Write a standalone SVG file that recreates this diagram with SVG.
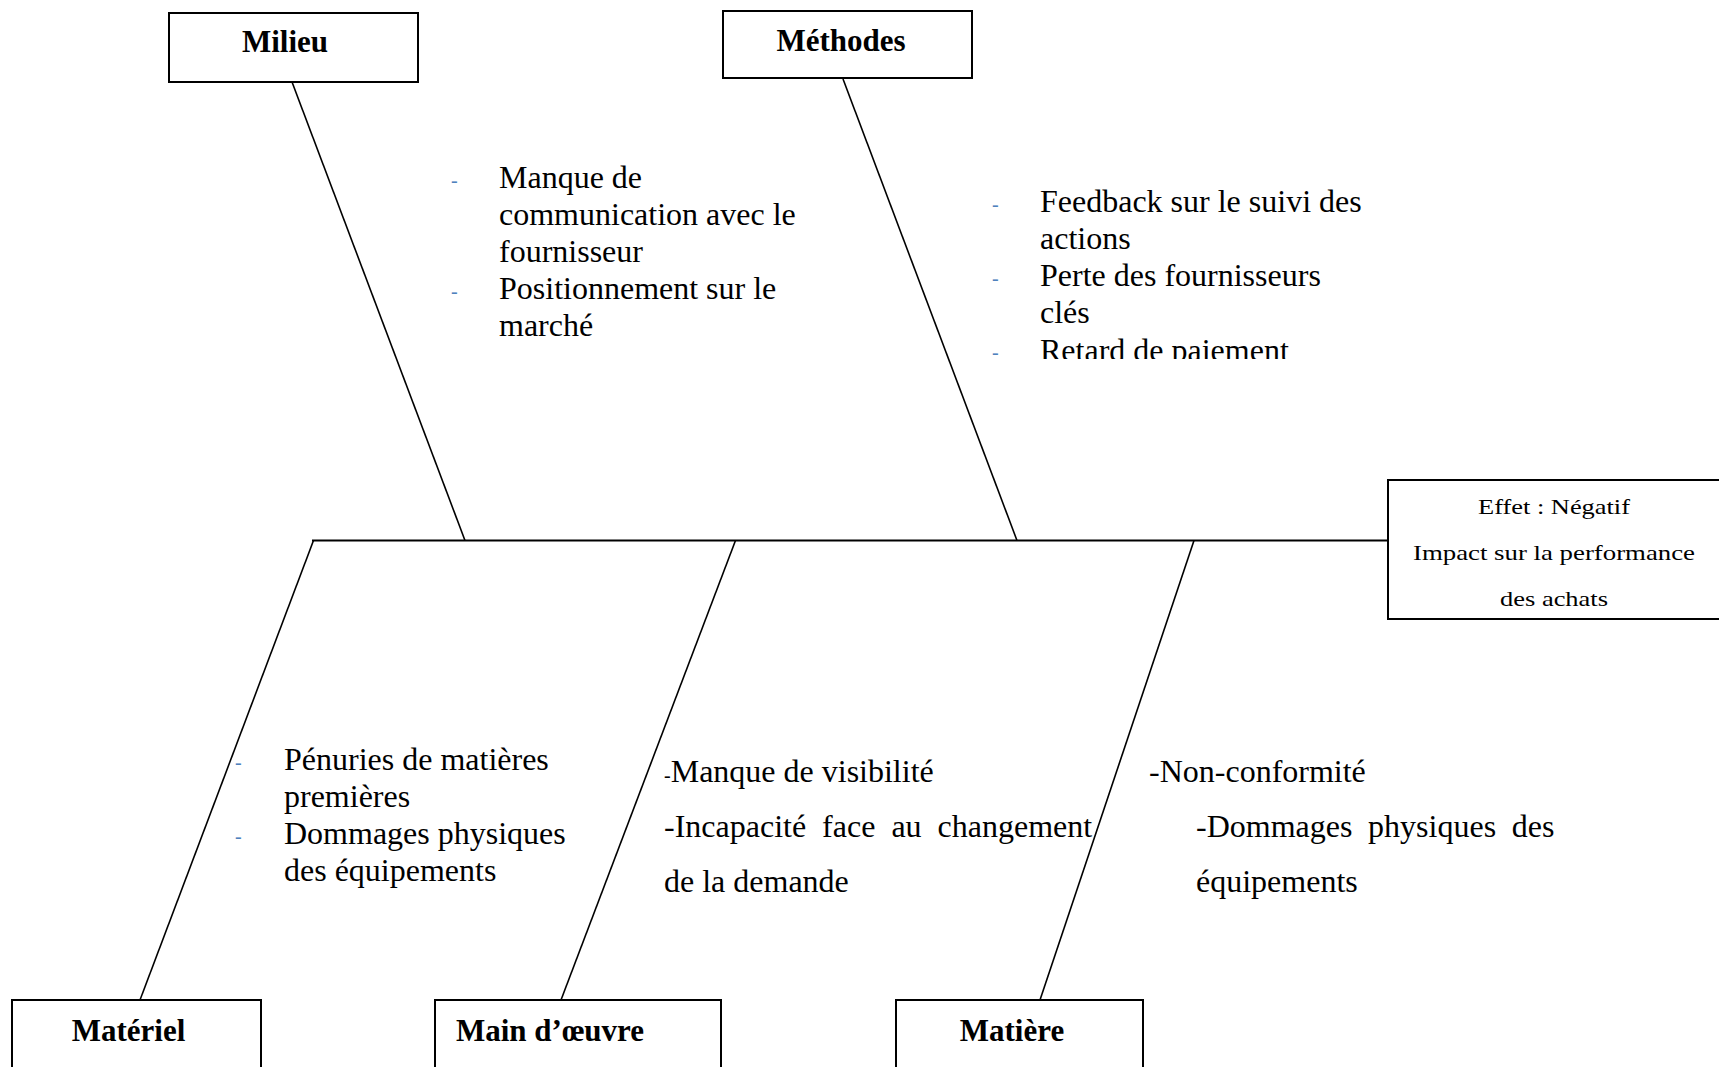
<svg xmlns="http://www.w3.org/2000/svg" width="1719" height="1067" viewBox="0 0 1719 1067">
  <style>
    .box { fill: #ffffff; stroke: #000000; stroke-width: 2; }
    .bone { fill: none; stroke: #000000; stroke-width: 1.6; }
    .spine { fill: none; stroke: #000000; stroke-width: 2.2; }
    .title { font-family: "Liberation Serif", "Times New Roman", serif; font-weight: bold; font-size: 31px; fill: #000000; }
    .cause { font-family: "Liberation Serif", "Times New Roman", serif; font-size: 32px; fill: #000000; }
    .bullet { font-family: "Liberation Serif", "Times New Roman", serif; font-size: 20px; fill: #4f81bd; }
    .effect { font-family: "Liberation Serif", "Times New Roman", serif; font-size: 21px; fill: #000000; }
  </style>
  <defs>
    <clipPath id="methodes-clip">
      <rect x="980" y="150" width="420" height="209"/>
    </clipPath>
  </defs>
  <rect width="1719" height="1067" fill="#ffffff"/>

  <!-- bones and spine -->
  <g id="connectors">
    <line class="spine" x1="312" y1="540.5" x2="1388" y2="540.5"/>
    <line class="bone" x1="292" y1="82" x2="465" y2="540.5"/>
    <line class="bone" x1="843" y1="79" x2="1017" y2="540.5"/>
    <line class="bone" x1="313.5" y1="540.5" x2="140" y2="1000"/>
    <line class="bone" x1="735.5" y1="540.5" x2="561" y2="1000"/>
    <line class="bone" x1="1194" y1="540.5" x2="1040" y2="1000"/>
  </g>

  <!-- category boxes -->
  <g id="milieu">
    <rect class="box" x="169" y="13" width="249" height="69"/>
    <text class="title" x="285" y="52" text-anchor="middle">Milieu</text>
  </g>
  <g id="methodes">
    <rect class="box" x="723" y="11" width="249" height="67"/>
    <text class="title" x="841" y="51" text-anchor="middle">Méthodes</text>
  </g>
  <g id="materiel">
    <rect class="box" x="12" y="1000" width="249" height="80"/>
    <text class="title" x="128.5" y="1041" text-anchor="middle">Matériel</text>
  </g>
  <g id="main-oeuvre">
    <rect class="box" x="435" y="1000" width="286" height="80"/>
    <text class="title" x="456" y="1041">Main d’œuvre</text>
  </g>
  <g id="matiere">
    <rect class="box" x="896" y="1000" width="247" height="80"/>
    <text class="title" x="1012" y="1041" text-anchor="middle">Matière</text>
  </g>

  <!-- effect box -->
  <g id="effet">
    <rect class="box" x="1388" y="480" width="340" height="139"/>
    <text class="effect" x="1554" y="514" text-anchor="middle" textLength="152" lengthAdjust="spacingAndGlyphs">Effet : Négatif</text>
    <text class="effect" x="1554" y="560" text-anchor="middle" textLength="282" lengthAdjust="spacingAndGlyphs">Impact sur la performance</text>
    <text class="effect" x="1554" y="606" text-anchor="middle" textLength="108" lengthAdjust="spacingAndGlyphs">des achats</text>
  </g>

  <!-- causes: Milieu -->
  <g id="causes-milieu">
    <text class="bullet" x="451" y="187">-</text>
    <text class="cause" x="499" y="188">Manque de</text>
    <text class="cause" x="499" y="225">communication avec le</text>
    <text class="cause" x="499" y="262">fournisseur</text>
    <text class="bullet" x="451" y="298">-</text>
    <text class="cause" x="499" y="299">Positionnement sur le</text>
    <text class="cause" x="499" y="336">marché</text>
  </g>

  <!-- causes: Méthodes (text frame cuts the last line) -->
  <g id="causes-methodes" clip-path="url(#methodes-clip)">
    <text class="bullet" x="992" y="211">-</text>
    <text class="cause" x="1040" y="212">Feedback sur le suivi des</text>
    <text class="cause" x="1040" y="249">actions</text>
    <text class="bullet" x="992" y="285">-</text>
    <text class="cause" x="1040" y="286">Perte des fournisseurs</text>
    <text class="cause" x="1040" y="323">clés</text>
    <text class="bullet" x="992" y="359">-</text>
    <text class="cause" x="1040" y="361">Retard de paiement</text>
  </g>

  <!-- causes: Matériel -->
  <g id="causes-materiel">
    <text class="bullet" x="235" y="769">-</text>
    <text class="cause" x="284" y="770">Pénuries de matières</text>
    <text class="cause" x="284" y="807">premières</text>
    <text class="bullet" x="235" y="843">-</text>
    <text class="cause" x="284" y="844">Dommages physiques</text>
    <text class="cause" x="284" y="881">des équipements</text>
  </g>

  <!-- causes: Main d'œuvre -->
  <g id="causes-main-oeuvre">
    <text class="cause" x="664" y="782"><tspan font-size="20">-</tspan>Manque de visibilité</text>
    <text class="cause" x="664" y="837" word-spacing="8">-Incapacité face au changement</text>
    <text class="cause" x="664" y="892">de la demande</text>
  </g>

  <!-- causes: Matière -->
  <g id="causes-matiere">
    <text class="cause" x="1149" y="782">-Non-conformité</text>
    <text class="cause" x="1196" y="837" word-spacing="7.7">-Dommages physiques des</text>
    <text class="cause" x="1196" y="892">équipements</text>
  </g>
</svg>
